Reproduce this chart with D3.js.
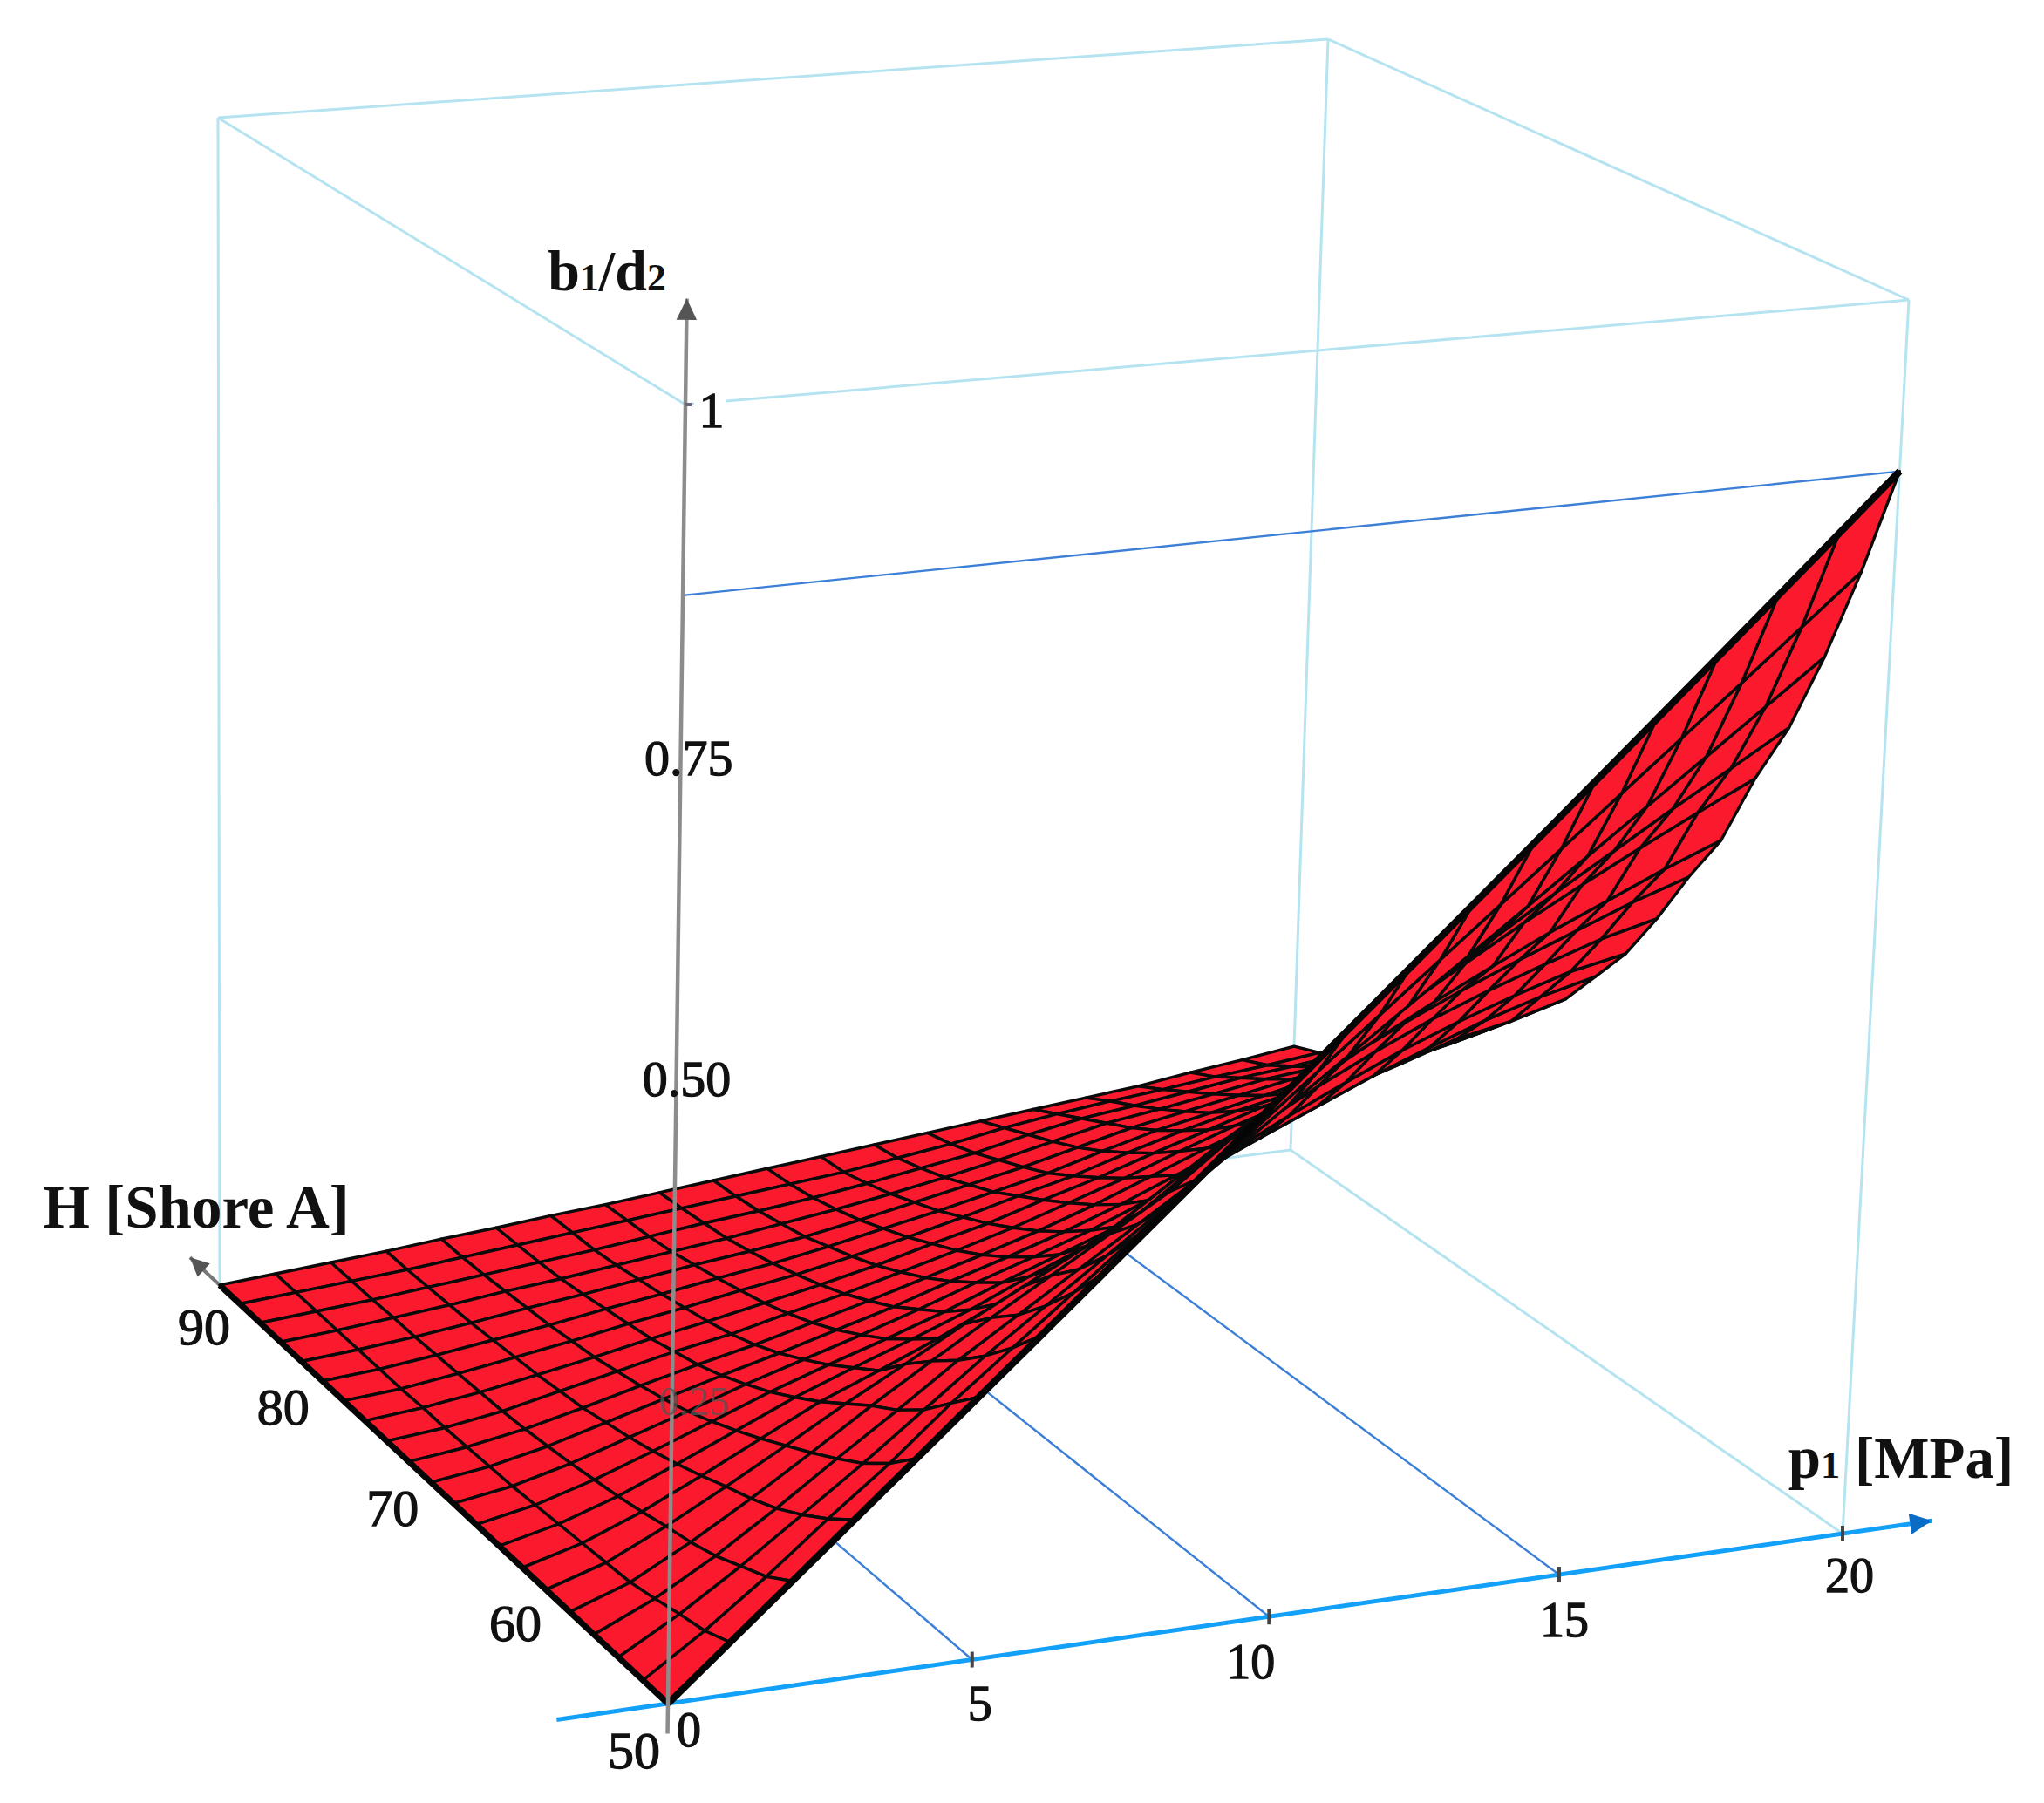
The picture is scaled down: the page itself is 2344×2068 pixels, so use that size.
<!DOCTYPE html>
<html>
<head>
<meta charset="utf-8">
<script src="https://cdn.jsdelivr.net/npm/d3@7"></script>
<style>
  html, body { margin: 0; background: #fff; }
  text { font-family: "Liberation Serif", serif; fill: #111; }
</style>
</head>
<body>
<div id="chart"></div>
<script>
// Data
const pGrid = [0,1,2,3,4,5,6,7,8,9,10,11,12,13,14,15,16,17,18,19,20];
const hGrid = [50,52,54,56,58,60,62,64,66,68,70,72,74,76,78,80,82,84,86,88,90];
const pTicks = [5,10,15,20];
const hTicks = [50,60,70,80,90];
const zTicks = ["0.25","0.50","0.75","1"];
const levelRatio = [0.8625, 0.87]; // blue line, at p = 0 and at p = 20

// b1/d2, one row per hardness value, one column per pressure value
const ratioRows = [
  [0,.0435,.087,.1305,.174,.2175,.261,.3045,.348,.3915,.435,.4785,.522,.5655,.609,.6525,.696,.7395,.783,.8265,.87],
  [0,.034,.072,.113,.152,.195,.234,.273,.312,.351,.39,.429,.468,.507,.546,.585,.624,.663,.702,.741,.78],
  [0,.029,.062,.098,.134,.172,.21,.245,.28,.315,.35,.385,.42,.455,.49,.525,.56,.595,.63,.665,.70],
  [0,.023,.052,.085,.12,.154,.189,.2205,.252,.2835,.315,.355,.39,.423,.455,.486,.516,.545,.574,.602,.63],
  [0,.018,.045,.075,.107,.14,.171,.201,.23,.259,.288,.325,.358,.39,.42,.449,.477,.503,.528,.552,.575],
  [0,.016,.04,.067,.095,.124,.151,.1785,.204,.2295,.255,.29,.32,.349,.376,.402,.426,.449,.47,.491,.51],
  [0,.014,.034,.058,.083,.108,.128,.149,.172,.197,.225,.258,.291,.319,.345,.369,.391,.411,.43,.449,.465],
  [0,.012,.029,.05,.072,.094,.113,.131,.15,.172,.192,.22,.25,.278,.305,.329,.351,.37,.387,.403,.415],
  [0,.010,.025,.043,.062,.081,.098,.114,.131,.15,.168,.186,.214,.239,.264,.287,.309,.328,.345,.36,.37],
  [0,.008,.021,.037,.053,.07,.085,.10,.116,.133,.149,.166,.186,.207,.229,.25,.271,.29,.308,.323,.335],
  [0,.007,.018,.032,.046,.06,.073,.087,.101,.117,.132,.148,.166,.186,.207,.225,.245,.26,.276,.286,.30],
  [0,.006,.015,.027,.04,.052,.063,.076,.089,.103,.117,.132,.149,.168,.187,.205,.222,.235,.25,.261,.275],
  [0,.005,.013,.024,.035,.046,.055,.067,.078,.091,.104,.118,.134,.15,.168,.185,.20,.212,.225,.236,.25],
  [0,.005,.012,.021,.03,.04,.049,.059,.069,.08,.093,.105,.12,.134,.15,.165,.18,.19,.203,.212,.225],
  [0,.004,.011,.019,.027,.036,.044,.053,.061,.071,.082,.094,.107,.119,.134,.148,.16,.17,.182,.188,.20],
  [0,.004,.01,.017,.024,.032,.039,.047,.054,.063,.073,.083,.094,.105,.119,.132,.142,.152,.163,.17,.175],
  [0,.004,.009,.015,.022,.028,.035,.042,.048,.055,.064,.074,.084,.094,.106,.118,.127,.136,.145,.15,.155],
  [0,.004,.009,.014,.02,.025,.031,.037,.043,.05,.057,.065,.074,.084,.095,.106,.113,.121,.129,.134,.14],
  [0,.004,.008,.013,.018,.023,.028,.034,.04,.045,.051,.058,.066,.074,.085,.094,.10,.107,.114,.119,.125],
  [0,.004,.008,.012,.017,.022,.027,.032,.037,.042,.047,.052,.059,.066,.075,.082,.088,.093,.099,.104,.11],
  [0,.004,.008,.012,.017,.021,.026,.03,.035,.04,.045,.05,.055,.06,.065,.07,.075,.08,.087,.093,.10],
];

const width = 2344, height = 2068;

// Box corners on the page, order: origin, p end, H end, far corner
const floorQuad = [[766,1954],[2113,1759],[252,1474],[1480,1319]];
const roofQuad = [[786,464],[2189,344],[250,135],[1523,45]];
const zBulge = 0.08; // vertical foreshortening, the box is seen from above

const pScale = d3.scaleLinear().domain([0,20]).range([0,1]);
const hScale = d3.scaleLinear().domain([50,90]).range([0,1]);
const zScale = d3.scaleLinear().domain([0,1]).range([0,1]);

// unit square -> quad
function quadMap(q) {
  const [a,b,c,d] = q;
  const dx1 = b[0]-d[0], dy1 = b[1]-d[1], dx2 = c[0]-d[0], dy2 = c[1]-d[1];
  const sx = a[0]-b[0]+d[0]-c[0], sy = a[1]-b[1]+d[1]-c[1];
  const den = dx1*dy2 - dx2*dy1;
  const g = (sx*dy2 - dx2*sy)/den, h = (dx1*sy - sx*dy1)/den;
  return (u,v) => {
    const w = 1 + g*u + h*v;
    return [
      (a[0] + (b[0]-a[0]+g*b[0])*u + (c[0]-a[0]+h*c[0])*v)/w,
      (a[1] + (b[1]-a[1]+g*b[1])*u + (c[1]-a[1]+h*c[1])*v)/w
    ];
  };
}
const floorAt = quadMap(floorQuad), roofAt = quadMap(roofQuad);

function project(p, h, z) {
  const u = pScale(p), v = hScale(h), t = zScale(z);
  const f = floorAt(u,v), r = roofAt(u,v);
  const s = t/(1 + zBulge*(1-t));
  return [f[0]+(r[0]-f[0])*s, f[1]+(r[1]-f[1])*s];
}

const line = d3.line();
const svg = d3.select("#chart").append("svg")
  .attr("width", width).attr("height", height)
  .style("display","block");

function seg(a, b, color, w) {
  svg.append("path").attr("d", line([a,b]))
    .attr("fill","none").attr("stroke",color).attr("stroke-width",w);
}

function arrow(from, to, color, size) {
  const ang = Math.atan2(to[1]-from[1], to[0]-from[0]);
  const wing = d => [to[0]-size*Math.cos(ang+d), to[1]-size*Math.sin(ang+d)];
  svg.append("path").attr("d", line([to, wing(0.45), wing(-0.45)])+"Z").attr("fill",color);
}

// Box
const boxColor = "#b5e4f0";
const [pMin,pMax] = pScale.domain(), [hMin,hMax] = hScale.domain();
seg(project(pMax,hMin,0), project(pMax,hMax,0), boxColor, 3);
seg(project(pMin,hMax,0), project(pMax,hMax,0), boxColor, 3);
seg(project(pMin,hMax,0), project(pMin,hMax,1), boxColor, 3);
seg(project(pMax,hMax,0), project(pMax,hMax,1), boxColor, 3);
seg(project(pMax,hMin,0), project(pMax,hMin,1), boxColor, 3);
seg(project(pMin,hMin,1), project(pMax,hMin,1), boxColor, 3);
seg(project(pMin,hMax,1), project(pMax,hMax,1), boxColor, 3);
seg(project(pMin,hMin,1), project(pMin,hMax,1), boxColor, 3);
seg(project(pMax,hMin,1), project(pMax,hMax,1), boxColor, 3);

// Guide lines under the surface
const guideColor = "#3b7fd6";
pTicks.slice(0,3).forEach(p => seg(project(p,hMin,0), project(p,hMax,0), guideColor, 2.4));
seg(project(pMin,hMin,levelRatio[0]), project(pMax,hMin,levelRatio[1]), guideColor, 2.4);

// p axis
const pAxisStart = project(-1.8,hMin,0), pAxisEnd = project(21.6,hMin,0);
seg(pAxisStart, pAxisEnd, "#12a0f8", 5);
arrow(pAxisStart, pAxisEnd, "#0a6cc4", 28);
pTicks.forEach(p => {
  const c = project(p,hMin,0);
  seg([c[0],c[1]-9], [c[0],c[1]+9], "#444", 4);
});

// H axis stub
const hAxisEnd = project(pMin,93,0);
seg(project(pMin,hMax,0), hAxisEnd, "#777", 4);
arrow(project(pMin,hMax,0), hAxisEnd, "#555", 24);

// Surface, far cells first
const cells = [];
hGrid.slice(0,-1).forEach((h,i) => {
  pGrid.slice(0,-1).forEach((p,j) => {
    cells.push({
      depth: 0.05*pScale(p) + 0.1223*hScale(h),
      pts: [
        project(p,h,ratioRows[i][j]),
        project(pGrid[j+1],h,ratioRows[i][j+1]),
        project(pGrid[j+1],hGrid[i+1],ratioRows[i+1][j+1]),
        project(p,hGrid[i+1],ratioRows[i+1][j])
      ]
    });
  });
});
cells.sort((a,b) => d3.descending(a.depth,b.depth));
svg.append("g").selectAll("path").data(cells).join("path")
  .attr("d", d => line(d.pts)+"Z")
  .attr("fill","#fb1a2d")
  .attr("stroke","#0a0a0a")
  .attr("stroke-width",3.4)
  .attr("stroke-linejoin","round");

// Heavy edges of the surface
svg.append("path").attr("d", line(pGrid.map((p,j) => project(p,hMin,ratioRows[0][j]))))
  .attr("fill","none").attr("stroke","#050505").attr("stroke-width",8);
svg.append("path").attr("d", line(hGrid.map((h,i) => project(pMin,h,ratioRows[i][0]))))
  .attr("fill","none").attr("stroke","#050505").attr("stroke-width",7);

// z axis, lies over the surface
const zAxisEnd = project(pMin,hMin,1.075);
seg(project(pMin,hMin,-0.025), zAxisEnd, "#8c8c8c", 4.5);
arrow(project(pMin,hMin,0), zAxisEnd, "#555", 27);
const zTop = project(pMin,hMin,1);
seg(zTop, [zTop[0]+7, zTop[1]], "#667", 4);

// Tick labels
function label(x, y, str, size, opts = {}) {
  return svg.append("text").attr("x",x).attr("y",y)
    .attr("text-anchor","middle").attr("dominant-baseline","central")
    .attr("font-size",size)
    .attr("stroke", opts.color || "#111").attr("stroke-width", opts.heavy ?? 1.3)
    .style("fill", opts.color || "#111")
    .attr("opacity", opts.opacity ?? 1)
    .text(str);
}

// The label "1" interrupts the roof edge
svg.append("rect").attr("x", zTop[0]+10).attr("y", zTop[1]-20).attr("width",36).attr("height",40).attr("fill","#fff");

const zNudge = {"0.25":[25,5],"0.50":[12,0],"0.75":[9,11],"1":[30,6]};
zTicks.forEach(z => {
  const c = project(pMin,hMin,+z), n = zNudge[z];
  const faint = z === "0.25";
  label(c[0]+n[0], c[1]+n[1], z, faint ? 46 : 58, faint ? {color:"#555",opacity:.75,heavy:0} : {});
});
const o = project(pMin,hMin,0);
label(o[0]+24, o[1]+30, "0", 56);
const hNudge = {50:[-39,54],60:[-35,39],70:[-44,30],80:[-45,30],90:[-18,48]};
hTicks.forEach(h => {
  const c = project(pMin,h,0), n = hNudge[h];
  label(c[0]+n[0], c[1]+n[1], h, 60);
});
const pNudge = {5:[9,50],10:[-21,52],15:[6,52],20:[8,48]};
pTicks.forEach(p => {
  const c = project(p,hMin,0), n = pNudge[p];
  label(c[0]+n[0], c[1]+n[1], p, 56);
});

// Axis titles
function title(x, y, size, parts) {
  const t = svg.append("text").attr("x",x).attr("y",y).attr("text-anchor","middle")
    .attr("font-size",size).attr("font-weight","bold");
  parts.forEach(([s,small]) => t.append("tspan").attr("font-size", small ? size*0.66 : size).text(s));
}
title(225, 1408, 69, [["H [Shore A]"]]);
title(2180, 1695, 67, [["p"],["1",true],[" [MPa]"]]);
title(696, 333, 66, [["b"],["1",true],["/d"],["2",true]]);
</script>
</body>
</html>
